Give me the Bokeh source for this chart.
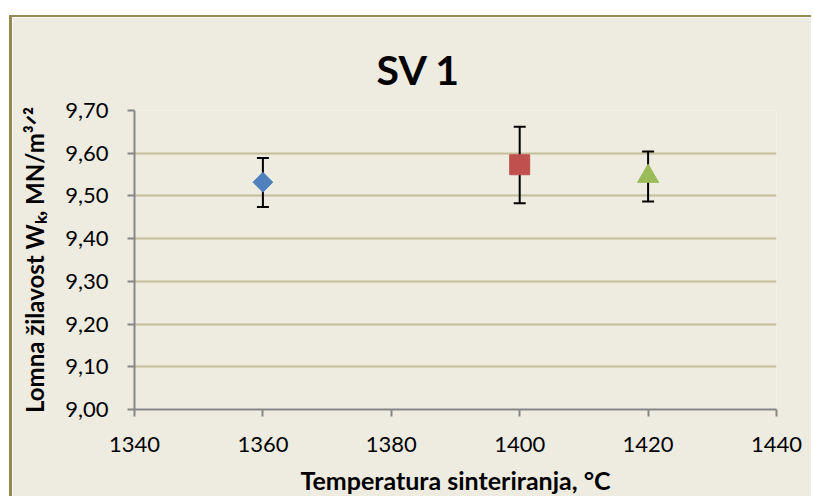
from bokeh.plotting import figure
from bokeh.models import ColumnDataSource, Whisker, TeeHead, FixedTicker, CustomJSTickFormatter
from bokeh.embed import file_html
from bokeh.resources import INLINE

# ---- data ----
temperatures = [1360, 1400, 1420]
toughness = [9.532, 9.573, 9.546]
err_upper = [9.589, 9.662, 9.604]
err_lower = [9.474, 9.483, 9.487]
x_ticks = [1340, 1360, 1380, 1400, 1420, 1440]
y_ticks = [9.00, 9.10, 9.20, 9.30, 9.40, 9.50, 9.60, 9.70]
title_text = "SV 1"
x_label = "Temperatura sinteriranja, °C"
y_label = "Lomna žilavost Wₖ, MN/m³ᐟ²"

# ---- styles ----
BG = "#EEECE1"
BORDER = "#948A54"
GRID = "#C4BD97"
AXIS = "#868686"
FONT = "Lato"
series_style = [
    dict(marker="square", angle=45, size=14, color="#4F81BD"),
    dict(marker="square", angle=0, size=20, color="#C0504D"),
    dict(marker="triangle", angle=0, size=21, color="#9BBB59"),
]

p = figure(
    width=802, height=481,
    x_range=(x_ticks[0], x_ticks[-1]), y_range=(y_ticks[0], y_ticks[-1]),
    output_backend="svg", toolbar_location=None,
    min_border_left=122, min_border_right=38, min_border_top=93, min_border_bottom=89,
    background_fill_color=BG, border_fill_color=BG,
    margin=(15, 0, 0, 9),
)
p.styles = {"border-left": f"3px solid {BORDER}", "border-top": f"2px solid {BORDER}"}
p.outline_line_color = None

p.title.text = title_text
p.title.text_font = FONT
p.title.text_font_size = "41px"
p.title.text_font_style = "bold"
p.title.text_color = "black"
p.title.align = "left"
p.title.offset = 242
p.title.standoff = 34

p.xaxis.ticker = FixedTicker(ticks=x_ticks)
p.yaxis.ticker = FixedTicker(ticks=y_ticks)
p.yaxis.formatter = CustomJSTickFormatter(code="return tick.toFixed(2).replace('.', ',');")
for ax in (p.xaxis, p.yaxis):
    ax.axis_line_color = AXIS
    ax.axis_line_width = 2
    ax.major_tick_line_color = AXIS
    ax.major_tick_line_width = 2
    ax.major_tick_out = 7
    ax.major_tick_in = 0
    ax.minor_tick_line_color = None
    ax.major_label_text_font = FONT
    ax.major_label_text_font_size = "22px"
    ax.major_label_text_color = "black"
    ax.axis_label_text_font = FONT
    ax.axis_label_text_font_style = "bold"
    ax.axis_label_text_color = "black"
p.xaxis.axis_label = x_label
p.yaxis.axis_label = y_label
p.xaxis.axis_label_text_font_size = "25px"
p.yaxis.axis_label_text_font_size = "24px"
p.yaxis.major_label_standoff = 19
p.yaxis.axis_label_standoff = 13
p.xaxis.major_label_standoff = 20
p.xaxis.axis_label_standoff = 10

p.xgrid.visible = False
p.ygrid.ticker = FixedTicker(ticks=y_ticks)
p.ygrid.grid_line_color = GRID
p.ygrid.grid_line_width = 2

src = ColumnDataSource(dict(x=temperatures, y=toughness, upper=err_upper, lower=err_lower))
wh = Whisker(
    base="x", upper="upper", lower="lower", source=src,
    line_color="black", line_width=2,
    upper_head=TeeHead(size=12, line_width=2, line_color="black"),
    lower_head=TeeHead(size=12, line_width=2, line_color="black"),
)
p.add_layout(wh)

for i, st in enumerate(series_style):
    p.scatter(
        x=temperatures[i:i + 1], y=toughness[i:i + 1],
        marker=st["marker"], angle=st["angle"], angle_units="deg", size=st["size"],
        fill_color=st["color"], line_color=st["color"], line_width=1,
    )

open("out.html", "w").write(file_html(p, INLINE))
